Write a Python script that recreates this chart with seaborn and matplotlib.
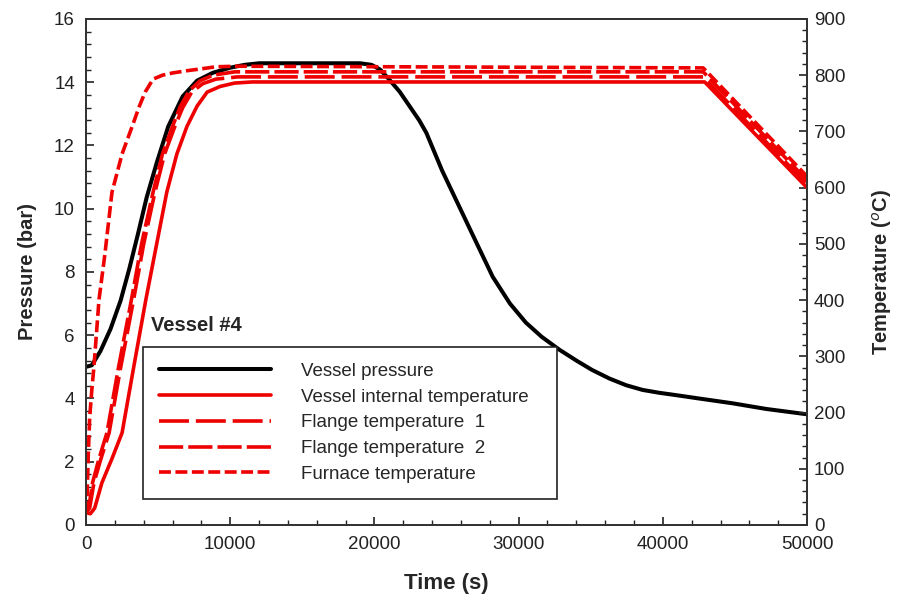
import matplotlib
matplotlib.use('Agg')
import matplotlib.pyplot as plt
import seaborn as sns
import pandas as pd
from matplotlib.ticker import MultipleLocator

sns.set_style('ticks')
plt.rcParams['font.family'] = ['Liberation Sans', 'DejaVu Sans']

# vessel pressure (bar)
p_time = [0, 400, 1000, 1700, 2400, 3000, 3600, 4200, 4900, 5700, 6700, 7700, 8800,
          10000, 11000, 12000, 19000, 19800, 20400, 21000, 21750, 22500, 23100, 23600,
          24700, 25900, 27100, 28200, 29400, 30500, 31600, 32800, 34000, 35100, 36300,
          37450, 38600, 39750, 41000, 42500, 44800, 47150, 50000]
p_bar = [5.0, 5.05, 5.5, 6.2, 7.1, 8.1, 9.2, 10.35, 11.45, 12.6, 13.55, 14.05, 14.3,
         14.46, 14.55, 14.6, 14.6, 14.55, 14.4, 14.1, 13.7, 13.2, 12.8, 12.4,
         11.2, 10.05, 8.9, 7.85, 7.0, 6.4, 5.95, 5.55, 5.2, 4.9, 4.63,
         4.42, 4.27, 4.18, 4.1, 4.0, 3.85, 3.67, 3.5]

# temperatures (degC)
vi_time = [0, 300, 600, 1100, 1800, 2500, 3300, 4150, 4900, 5600, 6300, 7000, 7700,
           8400, 9300, 10300, 11500, 42900, 50000]
vi_temp = [22, 20, 30, 75, 118, 164, 280, 401, 500, 592, 660, 709, 745,
           770, 780, 786, 788, 788, 600]

f1_time = [0, 250, 550, 1000, 1600, 2400, 3300, 4000, 4780, 5450, 6160, 6700, 7330,
           8100, 9000, 10500, 42800, 50000]
f1_temp = [22, 30, 75, 115, 164, 280, 401, 500, 592, 660, 709, 742, 770,
           785, 793, 797, 797, 606]

f2_time = [0, 200, 450, 900, 1450, 2250, 3150, 3850, 4650, 5300, 6000, 6550, 7150,
           7900, 8800, 10300, 42800, 50000]
f2_temp = [22, 32, 75, 118, 164, 280, 401, 500, 592, 660, 709, 745, 772,
           790, 800, 806, 806, 613]

fu_time = [0, 60, 150, 250, 400, 550, 900, 1300, 1800, 2500, 3200, 3700, 4100, 4650,
           5300, 6000, 7000, 7900, 9000, 10500, 42800, 50000]
fu_temp = [22, 40, 120, 190, 240, 282, 401, 480, 592, 660, 709, 745, 770, 793,
           800, 804, 808, 811, 815, 816, 813, 620]

red = '#ee0000'
lw = 2.6

fig = plt.figure(figsize=(8.99, 6.01), dpi=100)
ax = fig.add_axes([0.0957, 0.1265, 0.802, 0.8419])
ax2 = ax.twinx()

df_p = pd.DataFrame({'t': p_time, 'p': p_bar})
sns.lineplot(data=df_p, x='t', y='p', ax=ax, color='black', linewidth=lw + 0.3,
             label='Vessel pressure', legend=False)
h_p = ax.lines[-1]

series = [
    (vi_time, vi_temp, 'Vessel internal temperature', None),
    (f1_time, f1_temp, 'Flange temperature  1', (8.3, 1.9)),
    (f2_time, f2_temp, 'Flange temperature  2', (6.7, 1.4)),
    (fu_time, fu_temp, 'Furnace temperature', (3.3, 1.25)),
]
handles = [h_p]
for tt, vv, name, dash in series:
    d = pd.DataFrame({'t': tt, 'T': vv})
    sns.lineplot(data=d, x='t', y='T', ax=ax2, color=red, linewidth=lw,
                 label=name, legend=False)
    ln = ax2.lines[-1]
    if dash is not None:
        ln.set_dashes(dash)
    handles.append(ln)

ax.set_xlim(0, 50000)
ax.set_ylim(0, 16)
ax2.set_ylim(0, 900)

ax.xaxis.set_major_locator(MultipleLocator(10000))
ax.xaxis.set_minor_locator(MultipleLocator(2000))
ax.yaxis.set_major_locator(MultipleLocator(2))
ax.yaxis.set_minor_locator(MultipleLocator(0.4))
ax2.yaxis.set_major_locator(MultipleLocator(100))
ax2.yaxis.set_minor_locator(MultipleLocator(20))

for a in (ax, ax2):
    a.tick_params(which='major', direction='in', length=6, width=1.2, labelsize=13.5,
                  colors='#222222')
    a.tick_params(which='minor', direction='in', length=3.5, width=1.0, colors='#222222')
    for s in a.spines.values():
        s.set_visible(True)
        s.set_linewidth(1.3)
        s.set_color('#333333')
ax.tick_params(axis='x', pad=8)
ax.tick_params(axis='y', pad=8)
ax2.tick_params(axis='y', pad=5)

ax.set_xlabel('Time (s)', fontsize=16, fontweight='bold', labelpad=14)
ax.set_ylabel('Pressure (bar)', fontsize=14.5, fontweight='bold', labelpad=12)
ax2.set_ylabel('Temperature ($^{o}$C)', fontsize=14.5, fontweight='bold', labelpad=18,
               rotation=90)

ax.text(0.09, 0.395, 'Vessel #4', transform=ax.transAxes, fontsize=14.5,
        fontweight='bold', ha='left', va='center')

leg = ax2.legend(handles, [h.get_label() for h in handles], loc='upper left',
                 bbox_to_anchor=(0.079, 0.0, 0.574, 0.352), mode='expand',
                 borderaxespad=0, fontsize=13.5,
                 handlelength=6.0, handletextpad=1.6, labelspacing=0.46,
                 borderpad=0.85, fancybox=False, framealpha=1, edgecolor='#222222')
leg.get_frame().set_linewidth(1.2)

fig.savefig('out.png', dpi=100)
